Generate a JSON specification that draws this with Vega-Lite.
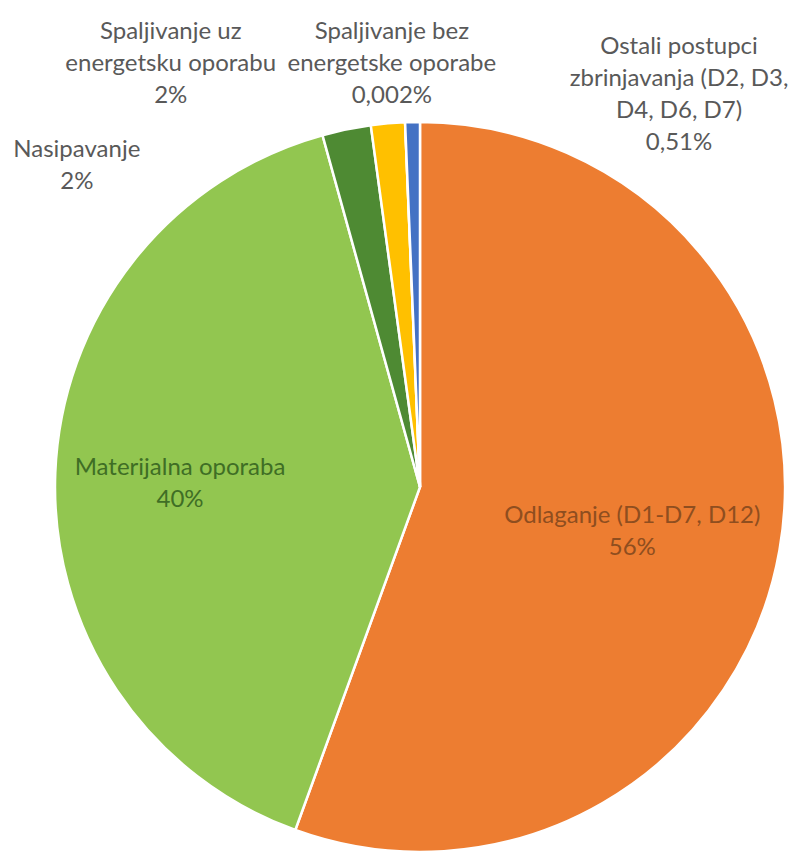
{
  "$schema": "https://vega.github.io/schema/vega-lite/v6.json",
  "width": 750,
  "height": 742,
  "autosize": {"type": "none"},
  "padding": {"left": 45, "top": 116, "right": 0, "bottom": 0},
  "background": "white",
  "config": {"view": {"stroke": null}, "text": {"font": "Lato", "fontSize": 24, "lineHeight": 32, "lineBreak": "\n", "align": "center", "baseline": "middle"}},
  "data": {
    "values": [
      {"order": 1, "cat": "Odlaganje (D1-D7, D12)", "value": 55.55, "label": "Odlaganje (D1-D7, D12)\n56%"},
      {"order": 2, "cat": "Materijalna oporaba", "value": 40.15, "label": "Materijalna oporaba\n40%"},
      {"order": 3, "cat": "Nasipavanje", "value": 2.15, "label": "Nasipavanje\n2%"},
      {"order": 4, "cat": "Spaljivanje uz energetsku oporabu", "value": 1.5, "label": "Spaljivanje uz\nenergetsku oporabu\n2%"},
      {"order": 5, "cat": "Spaljivanje bez energetske oporabe", "value": 0.002, "label": "Spaljivanje bez\nenergetske oporabe\n0,002%"},
      {"order": 6, "cat": "Ostali postupci zbrinjavanja (D2, D3, D4, D6, D7)", "value": 0.65, "label": "Ostali postupci\nzbrinjavanja (D2, D3,\nD4, D6, D7)\n0,51%"}
    ]
  },
  "encoding": {
    "theta": {"field": "value", "type": "quantitative", "stack": true},
    "order": {"field": "order", "type": "quantitative"}
  },
  "layer": [
    {
      "mark": {"type": "arc", "outerRadius": 365, "stroke": "white", "strokeWidth": 2.5},
      "encoding": {
        "color": {
          "field": "cat",
          "type": "nominal",
          "scale": {
            "domain": ["Odlaganje (D1-D7, D12)", "Materijalna oporaba", "Nasipavanje", "Spaljivanje uz energetsku oporabu", "Spaljivanje bez energetske oporabe", "Ostali postupci zbrinjavanja (D2, D3, D4, D6, D7)"],
            "range": ["#ED7D31", "#92C650", "#4E8A33", "#FFC000", "#A5A5A5", "#4472C4"]
          },
          "legend": null
        }
      }
    },
    {
      "mark": {"type": "text", "radius": 217, "thetaOffset": 0.0347, "dy": -16, "color": "#8F4E1F"},
      "encoding": {"text": {"condition": {"test": "datum.order === 1", "field": "label"}, "value": ""}}
    },
    {
      "mark": {"type": "text", "radius": 240, "thetaOffset": -0.027, "dy": -16, "color": "#3F6E25"},
      "encoding": {"text": {"condition": {"test": "datum.order === 2", "field": "label"}, "value": ""}}
    },
    {
      "mark": {"type": "text", "radius": 470, "thetaOffset": -0.6159, "dy": -16, "color": "#595959"},
      "encoding": {"text": {"condition": {"test": "datum.order === 3", "field": "label"}, "value": ""}}
    },
    {
      "mark": {"type": "text", "radius": 491, "thetaOffset": -0.4444, "dy": -32, "color": "#595959"},
      "encoding": {"text": {"condition": {"test": "datum.order === 4", "field": "label"}, "value": ""}}
    },
    {
      "mark": {"type": "text", "radius": 424, "thetaOffset": -0.0255, "dy": -32, "color": "#595959"},
      "encoding": {"text": {"condition": {"test": "datum.order === 5", "field": "label"}, "value": ""}}
    },
    {
      "mark": {"type": "text", "radius": 470, "thetaOffset": 0.6041, "dy": -48, "color": "#595959"},
      "encoding": {"text": {"condition": {"test": "datum.order === 6", "field": "label"}, "value": ""}}
    }
  ]
}
